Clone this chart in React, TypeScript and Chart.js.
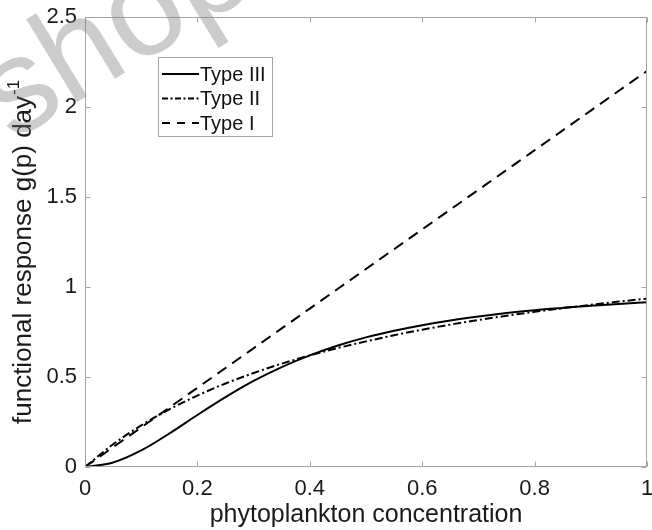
import React, { useEffect, useRef } from "react";
import { Chart, registerables } from "chart.js";

Chart.register(...registerables);

// ---- data ----
const pValues = [0, 0.05, 0.1, 0.15, 0.2, 0.25, 0.3, 0.35, 0.4, 0.45, 0.5, 0.55, 0.6, 0.65, 0.7, 0.75, 0.8, 0.85, 0.9, 0.95, 1];
const typeIII = [0, 0.025, 0.092, 0.186, 0.289, 0.388, 0.478, 0.555, 0.62, 0.675, 0.72, 0.757, 0.788, 0.814, 0.836, 0.855, 0.871, 0.884, 0.896, 0.906, 0.915];
const typeII = [0, 0.126, 0.231, 0.32, 0.397, 0.464, 0.522, 0.574, 0.62, 0.661, 0.698, 0.732, 0.763, 0.791, 0.817, 0.84, 0.862, 0.882, 0.901, 0.919, 0.935];
const typeI = [0, 0.11, 0.22, 0.33, 0.44, 0.55, 0.66, 0.77, 0.88, 0.99, 1.1, 1.21, 1.32, 1.43, 1.54, 1.65, 1.76, 1.87, 1.98, 2.09, 2.2];
const seriesLabels = ["Type III", "Type II", "Type I"];
const xTicks = [0, 0.2, 0.4, 0.6, 0.8, 1];
const yTicks = [0, 0.5, 1, 1.5, 2, 2.5];
const xTitle = "phytoplankton concentration";
const yTitle = "functional response g(p) day";
const yTitleSup = "-1";
const watermarkText = "shop";

const FONT = "'Liberation Sans', Arial, Helvetica, sans-serif";
const BOX_COLOR = "#a3a3a3";
const dashes = [[], [8, 3, 2, 3], [11, 7]];
const legendDashes = [[], [6, 2.5, 2, 2.5], [8, 7]];

const toPoints = (ys: number[]) => pValues.map((x, i) => ({ x, y: ys[i] }));
const fmt = (v: number) => String(Math.round(v * 10) / 10);

const decorPlugin = {
  id: "decor",
  afterDraw(chart: any) {
    const ctx: CanvasRenderingContext2D = chart.ctx;
    const { left, right, top, bottom } = chart.chartArea;
    const xs = chart.scales.x;
    const ys = chart.scales.y;
    const L = Math.round(left) + 0.5;
    const R = Math.round(right) - 0.5;
    const T = Math.round(top) + 0.5;
    const B = Math.round(bottom) - 0.5;

    // axes box with inward ticks
    ctx.save();
    ctx.strokeStyle = BOX_COLOR;
    ctx.lineWidth = 1;
    ctx.setLineDash([]);
    ctx.strokeRect(L, T, R - L, B - T);
    const tl = 5;
    ctx.beginPath();
    xTicks.forEach((v) => {
      const px = Math.round(xs.getPixelForValue(v)) + 0.5;
      ctx.moveTo(px, B);
      ctx.lineTo(px, B - tl);
      ctx.moveTo(px, T);
      ctx.lineTo(px, T + tl);
    });
    yTicks.forEach((v) => {
      const py = Math.round(ys.getPixelForValue(v)) + 0.5;
      ctx.moveTo(L, py);
      ctx.lineTo(L + tl, py);
      ctx.moveTo(R, py);
      ctx.lineTo(R - tl, py);
    });
    ctx.stroke();
    ctx.restore();

    // legend
    ctx.save();
    const bx = 158.5, by = 57.5, bw = 114, bh = 79;
    ctx.fillStyle = "#ffffff";
    ctx.fillRect(bx, by, bw, bh);
    ctx.strokeStyle = BOX_COLOR;
    ctx.lineWidth = 1;
    ctx.strokeRect(bx, by, bw, bh);
    ctx.font = `20px ${FONT}`;
    ctx.textBaseline = "middle";
    ctx.textAlign = "left";
    seriesLabels.forEach((lab, i) => {
      const cy = 74 + i * 24.5;
      ctx.strokeStyle = "#000";
      ctx.lineWidth = 2;
      ctx.setLineDash(legendDashes[i]);
      ctx.beginPath();
      ctx.moveTo(162, cy);
      ctx.lineTo(199, cy);
      ctx.stroke();
      ctx.setLineDash([]);
      ctx.fillStyle = "#111";
      ctx.fillText(lab, 200, cy + 1);
    });
    ctx.restore();

    // y title with superscript
    ctx.save();
    ctx.fillStyle = "#1a1a1a";
    ctx.translate(31, 424);
    ctx.rotate(-Math.PI / 2);
    ctx.textBaseline = "alphabetic";
    ctx.textAlign = "left";
    ctx.font = `26px ${FONT}`;
    ctx.fillText(yTitle, 0, 0);
    const w = ctx.measureText(yTitle).width;
    ctx.font = `17px ${FONT}`;
    ctx.fillText(yTitleSup, w + 1, -12);
    ctx.restore();

    // translucent watermark
    ctx.save();
    ctx.translate(12, 142);
    ctx.rotate(-0.55);
    ctx.font = `134px ${FONT}`;
    ctx.fillStyle = "rgba(120,120,120,0.38)";
    ctx.textBaseline = "alphabetic";
    ctx.fillText(watermarkText, 0, 0);
    ctx.restore();
  },
};

export default function App() {
  const ref = useRef<HTMLCanvasElement | null>(null);

  useEffect(() => {
    if (!ref.current) return;
    const chart = new Chart(ref.current, {
      type: "line",
      data: {
        datasets: [typeIII, typeII, typeI].map((ys, i) => ({
          label: seriesLabels[i],
          data: toPoints(ys),
          borderColor: "#000000",
          backgroundColor: "#000000",
          borderWidth: 2,
          borderDash: dashes[i],
          pointRadius: 0,
          fill: false,
          cubicInterpolationMode: "monotone" as const,
        })),
      },
      options: {
        responsive: false,
        animation: false,
        devicePixelRatio: 1,
        layout: { padding: { left: 0, right: 5, top: 17, bottom: 0 } },
        plugins: {
          legend: { display: false },
          tooltip: { enabled: false },
        },
        scales: {
          x: {
            type: "linear",
            min: 0,
            max: 1,
            grid: { display: false, drawTicks: false },
            border: { display: false },
            afterBuildTicks: (s: any) => {
              s.ticks = xTicks.map((value) => ({ value }));
            },
            afterFit: (s: any) => {
              s.height = 63;
              s.paddingLeft = 0;
              s.paddingRight = 0;
            },
            ticks: {
              autoSkip: false,
              maxRotation: 0,
              padding: 9,
              color: "#1a1a1a",
              font: { family: FONT, size: 22 },
              callback: (v: any) => fmt(Number(v)),
            },
            title: {
              display: true,
              text: xTitle,
              color: "#1a1a1a",
              font: { family: FONT, size: 25 },
              padding: { top: 0, bottom: 0 },
            },
          },
          y: {
            type: "linear",
            min: 0,
            max: 2.5,
            grid: { display: false, drawTicks: false },
            border: { display: false },
            afterBuildTicks: (s: any) => {
              s.ticks = yTicks.map((value) => ({ value }));
            },
            afterFit: (s: any) => {
              s.width = 85;
              s.paddingTop = 0;
              s.paddingBottom = 0;
            },
            ticks: {
              autoSkip: false,
              padding: 8,
              color: "#1a1a1a",
              font: { family: FONT, size: 22 },
              callback: (v: any) => fmt(Number(v)),
            },
          },
        },
      },
      plugins: [decorPlugin],
    });
    return () => chart.destroy();
  }, []);

  return (
    <div style={{ position: "absolute", left: 0, top: 0, width: 652, height: 530, background: "#fff" }}>
      <canvas ref={ref} width={652} height={530} style={{ width: 652, height: 530, display: "block" }} />
    </div>
  );
}
